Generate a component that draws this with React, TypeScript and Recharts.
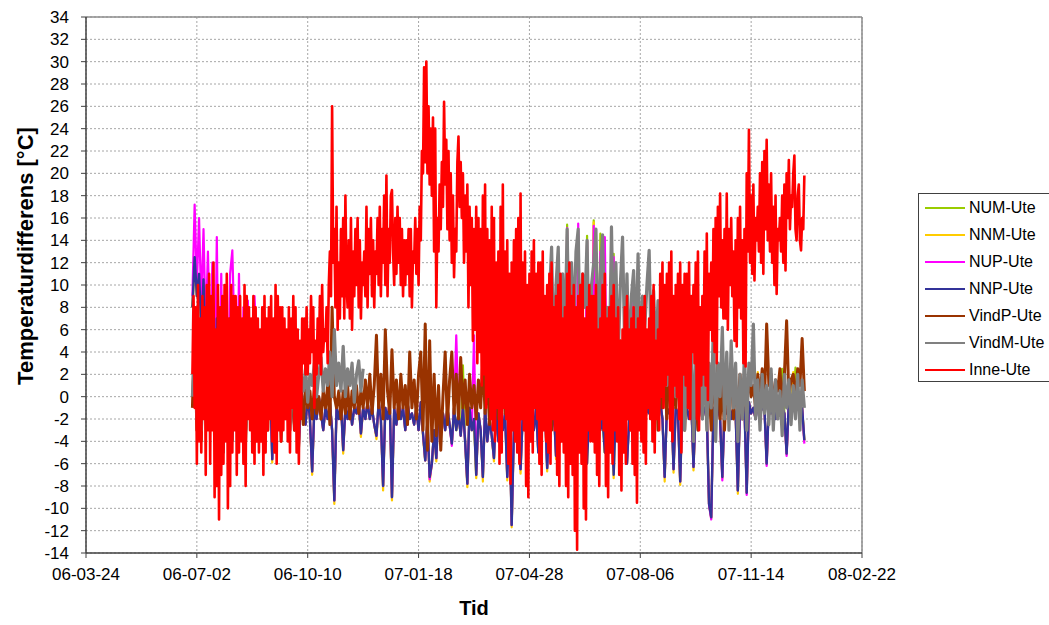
import { LineChart, Line, XAxis, YAxis, CartesianGrid, ReferenceLine } from 'recharts';

// x is counted in days from 2006-03-24, one axis tick every 100 days
const tickDays = [0, 100, 200, 300, 400, 500, 600, 700];
const tickLabels = ['06-03-24', '06-07-02', '06-10-10', '07-01-18', '07-04-28', '07-08-06', '07-11-14', '08-02-22'];
const tempTicks = [-14, -12, -10, -8, -6, -4, -2, 0, 2, 4, 6, 8, 10, 12, 14, 16, 18, 20, 22, 24, 26, 28, 30, 32, 34];

// logging started on day 96; indoor series daily, the rest every 2 days
const startDay = 96;
const indoorStep = 1;
const sensorStep = 2;
// VindM-Ute has a break in its logging, second run starts here
const vindMResumeDay = 412;

const inneUte = [
  2, 9, -1, 8, -6, 10, -4, 7, -5, 9, -2, 8, -7, 10, -3, 11, -6, 9, -3, 12,
  -9, 6, -8, 10, -11, 8, -7, 9, -6, 10, -4, 11, -10, 7, -8, 10, -5, 9, -3, 9,
  -7, 8, -5, 9, -4, 7, -6, 10, -8, 9, -2, 8, -3, 7, -5, 9, -6, 8, -4, 7,
  -5, 6, -4, 8, -7, 9, -5, 7, -3, 8, -2, 9, -4, 7, -5, 10, -6, 9, -3, 8,
  -4, 8, -3, 7, -2, 6, -4, 8, -5, 7, -1, 9, -3, 8, -5, 6, -6, 5, -2, 7,
  3, 7, 2, 8, 2, 6, 3, 9, 4, 8, -1, 5, 2, 7, 3, 9, 2, 10, 4, 6,
  5, 8, 3, 10, 13, 9, 26, 12, 15, 8, 17, 6, 12, 7, 15, 9, 16, 7, 18, 10,
  8, 14, 7, 16, 6, 13, 9, 15, 10, 16, 8, 14, 7, 12, 10, 13, 9, 17, 8, 15,
  11, 16, 9, 14, 8, 13, 11, 16, 10, 17, 9, 15, 12, 18, 10, 19.8, 9, 15, 12, 18,
  18.5, 13, 10, 16, 11, 17, 12, 16, 10, 15, 9, 14, 10, 14, 11, 15, 9, 15, 8, 13,
  12, 16, 11, 15, 10, 17, 14, 22, 20, 29.5, 21, 30, 20, 26, 19, 24, 18, 25, 13, 24,
  8, 16, 13, 19, 15, 21, 17, 26.4, 19, 23, 15, 22, 14, 20, 12, 18, 10.7, 15, 13, 21,
  23.3, 17, 21, 16, 20, 12, 18, 13, 19, 8, 17, 10, 16, 5, 15, 6, 17, 3, 16, 4,
  15, 1, 18, 2, 19, -1, 15, 0, 14, -2, 17, -3, 16, -4, 12, -1, 13, -6, 17, -5,
  19, -1, 13, -2, 14, -6, 11, -7.8, 12, -3, 14, -4, 15, -5, 16, -6, 18.2, -2, 12, -3,
  13, -8, 10, -9, 11, -4, 13, -5, 14, -1, 11, -2, 12, -6, 12, -7, 13, -3, 9, -4,
  10, -5, 11, -6, 12, -2, 8, -3, 9, -7, 10, -8, 11, -4, 7, -5, 8, -8, 11, -9,
  12, -6, 9, -7, 10, -12, 8, -13.7, 9, -5, 10, -6, 11, -10, 7, -11, 8, -3, 10, -4,
  9, -4, 9, -5, 10, -7, 6, -8, 7, -2, 10, -3, 11, -8, 7, -9, 8, -5, 9, -6,
  10, -3, 7, -4, 8, -7, 5, -8.4, 6, -5, 8, -6, 9, -2, 6, -3, 7, -6, 8, -7,
  6, -9.5, 7, -3, 8, -4, 8, -5, 9, -6, 6, -1, 7, -2, 9, -4, 10, -5, 5, -2,
  6, -3, 11, 0, 12, -1, 10, 1, 11, 2, 12, -3, 13, -4, 9, 1, 10, 0, 11, -2,
  12, -5, 10, 2, 11, 1, 11, -1, 12, -2, 9, 4, 10, 3, 12, -2, 13, -3, 8, 1,
  9, 2, 13, 1, 14.6, -0.3, 11, 6, 12, 5, 15, 4, 16, 3, 17, 9, 18.2, 8, 14, 7,
  15, 7, 18.2, 6, 15, 10, 16, 9, 13, 5, 14, 4.5, 16, 8, 17, 7, 14, 3, 15, 2.7,
  20, 13, 23.9, 12, 18, 11, 19, 10.4, 16, 14, 17, 13, 20, 12, 21, 11, 22, 15, 23, 14,
  19, 13, 20, 12, 17, 10, 18, 9.2, 15, 14, 16, 13, 18, 12, 19, 11.3, 20, 16, 21.2, 15,
  18, 17, 20, 21.6, 15, 14, 18, 19, 14, 13.1, 16, 15, 19.8,
];

const vindMUteFirst = [
  0, 5, -2, 6, -3, 4, -1, 7, -2, 5,
  -3, 4, -1, 6, -2, 3, -4, 5, -1, 4,
  -2, 3, 0, 4, -3, 2, -1, 5, -2, 3,
  -1, 4, -3, 2, 0, 3, -2, 4, -1, 2,
  -2, 3, -1, 2, -3, 1, 0, 2,
  1, 2, 0.5, 2.5, -0.5, 2, 1, 3, 0, 2,
  3.5, 0.5, 2.5, 1, 4, 0, 6, 1, 3, 0.5,
  4.5, 0, 2.5, 1, 3, -0.5, 2, 3.2, 0.5, 2.5,
];

const vindMUteSecond = [
  1, 5, -1, 9, 13.4, 3, 10, 13.4, 2, 11,
  5, 15, 4, 12, 6, 13, 15, 2, 11, 8,
  14, 3, 10, 12, 15, 4, 11, 14.5, 6, 8, 2,
  15.2, 5, 12, 3, 10, 14.3, 4, 11, 2, 9,
  11.3, 4, 12.8, 2, 9, 6, 10, 13.1, 3, 9.5,
  4, 8.6, 2, 7, 5.6, 1, 6, 3, 5, 0,
  6.2, -2, 5, -3, 4.1, 1, 6, -4, 3, -1, 5, -2,
  4, -3, 3, -1, 6.5, -4, 3, 0, 6.2, -2,
  4, -3, 5, -1, 3, -4, 2, -2, 4, -3, 3, 1,
  6.5, -2, 1.5, -3, 2, -1.5, 1, -2.5, 2.5, -3,
  1.5, -2, 0.5, -3.5, 2, -1, 1.5, -2.5, 1, -2, 2, -3, 1.5, -1,
];

const vindPUte = [
  -1, 6, -3, 5, -4, 7, -2, 4, -3, 6,
  -4, 5, -2, 3, -1.5, 6, -3, 4, -2, 5,
  -3, 4, -1, 5, -4, 3, -2, 4, -3, 2,
  -1, 4, -2, 3, -3, 5, -1, 2, -2, 3,
  -4, 2, -1, 3, -2, 1, -3, 2,
  -1, 0.5, -2.5, 1, -1, 0.5, -2, 1, -1.5, 0,
  -2, 0.5, -1, 1, -2.5, 8, 0, -1, 0.5, -2,
  0.5, -1.5, 1, -2, 0.5, -1, 1, -1.5, 0.5, -1,
  1.5, -1, 2, -1.5, 1, 5.5, -1, 2, -2, 6,
  0.5, -1.5, 4.2, -1, 1.5, -2, 2, -1, 1, -2.5,
  4, -1, 1.5, -2, 2, 4, -3, 6.5, -4.8, 5,
  -4, 2, -3.5, 1, -4.8, 0, 4, -2.5, 1.5, 4,
  -1.5, 2, -2, 3.5, -1, 1.5, -2.5, 2, -1, 1,
  -2, 1.5, -1, 3.3, -1.5, 2, -2.5, 1, -1, 2,
  -2, 1.5, 4, -1.5, 1, -3, 2, -1, 1.5, 2.8,
  -2, 1, -1.5, 2, -2.5, 2.5, -1, 1.5, -2, 3,
  -1, 4, -2, 3, -3, 5, -1, 2, -2, 4,
  -3, 3, -1, 5, -2, 2, -3, 4, -1, 3,
  -2, 5, -3, 2, -1, 4, -2, 3, -3, 2,
  -1, 4, -2, 3, -3, 5, -1, 2, -2, 3,
  -3, 4, -1, 2, -2, 5, -3, 3, -1, 2,
  -2, 4, -3, 3, -1, 2, -2, 4, -3, 1,
  -1, 3, -2, 4, -3, 2, -1, 3, -2, 1,
  -3, 2, -1, 3, -2, 1, -3, 2, -1, 3,
  -2, 1, -3, 2, -1, 3, -2, 1, -1, 2,
  -2, 1, -1, 2, 0,
  1, -1, 2, 0, 2.5, -0.5, 6.5, 1, 2, -1,
  1.5, 0.5, 2.5, -1, 2, 6.8, 0, 1.5, 2, -0.5, 2.5, 1, 5.2, 0.5,
];

const nnpUte = [
  8, 12.5, 9, 11, 6, 10.5, 4, 9, -2, 8,
  -4, 7, -3, 8, -5, 6, -2, 7, -4, 5,
  -3, 6, -2, 5, -4, 4, -1, 5, -3, 4,
  -2, 3, -3, 4, -1, 2, -5.6, 3, -2, 2,
  -3, 1, -2, 2, -1, 1, -3, 0, -4.5, 1,
  -1, -2.5, 0, -2, -6.7, -1, -2, 0, -1.5, -3,
  -1, -2, -0.5, -3, -9.3, -1, -2, -0.5, -4.8, -1,
  -2, -0.5, -2.5, -1, -1.5, -0.5, -3.3, -1, -2, -0.5,
  -2, -1, -2.5, -3.5, -0.5, -2, -8, -1, -2, -0.5,
  -9, -1, -2.5, -0.5, -2, -1, -3, -0.5, -2, -1.5,
  -2.5, -1, -3, -0.5, -3.3, -5.7, -2, -7.2, -6, -3,
  -5.5, -1, -3, -1.5, -3, -1, -2.5, -4.2, -1, -3,
  -1.5, -3.5, -1, -4, -7.8, -1, -3, -2, -7, -1.5,
  -3, -7.2, -1, -4, -2, -3.5, -5.5, -1, -4, -2,
  -3, -1.5, -7.2, -2, -11.5, -3, -1, -4, -6.5, -1.5,
  -3, -1, -4, -2, -3, -1, -5, -2, -3, -1,
  -6.4, -1.5, -3, -1, -5.3, -2, -3, -1, -4, -2,
  -3, -1, -5, -2, -3, -1, -4, -2, -6, -1,
  -3, -2, -4, -1, -3, -2, -5, -1, -3, -2,
  -7, -1, -3, -2, -4, -1, -6, -2, -3, -1,
  -2, -1, -1.5, -0.5, -2.5, -1, -1.5, -0.5, -2, -1,
  -1.5, -0.5, -2, -7.2, -1, -1.5, -0.5, -6.5, -1, -1.5,
  -7.6, -0.5, -1.5, -1, -2, -0.5, -6.3, -1, -1.5, -0.5,
  -2, -1, -1.5, -9.6, -10.8, -1, -1.5, -0.5, -2, -7.2,
  -1, -1.5, -0.5, -2, -1, -1.5, -8.4, -0.5, -1.5, -1,
  -8.6, -0.5, -1.5, -1, -2, -0.5, -1.5, -1, -1, -6,
  -0.5, -1.5, -1, -2, -0.5, -1, -1, -1.5, -5.1, -0.5,
  -1, -1, -1.5, -0.5, -1, -1, -3.9,
];

const nupUte = [
  9, 17.2, 10, 16, 8, 15, 6, 13, 4, 12,
  -2, 14.3, -3, 11, -4, 10, -2, 11, 13.1, 5,
  -3, 11, -2, 8, -4, 8.6, -1, 6, 9, 4,
  -2, 5, -3, 6.5, -1, 2, -5.6, 3, -2, 2,
  -3, 1, -2, 2, -1, 1, -3, 0, -4.5, 1,
  -1, -2.5, 0, -2, -6.7, -1, -2, 0, -1.5, -3,
  -1, -2, -0.5, -3, -9.3, -1, -2, -0.5, -4.8, -1,
  -2, -0.5, -2.5, -1, -1.5, -0.5, -3.3, -1, -2, -0.5,
  -2, -1, -2.5, -3.5, -0.5, -2, -8, -1, -2, -0.5,
  -9, -1, -2.5, -0.5, -2, -1, -3, -0.5, -2, -1.5,
  -2.5, -1, -3, -0.5, -3.3, -5.7, -2, -7.4, -6, -3,
  -5.5, -1, -3, -1.5, -3, -1, -2.5, -4.4, -1, 5.5,
  -1.5, -3.5, -1, -4, -7.8, -1, -3, 5.5, -7, -1.5,
  -3, -7.2, -1, -4, -2, -3.5, -5.5, -1, -4, -2,
  -3, -1.5, -7.2, -2, -11.5, -3, -1, -4, -6.5, -1.5,
  5.8, -1, -4, -2, -3, -1, -5, -2, -3, -1,
  -6.4, -1.5, -3, -1, -5.3, -2, -3, -1, -4, 15.1,
  -3, -1, -5, -2, 15.5, -1, -4, -2, 14, -1,
  -3, 15.3, -4, -1, 13, -2, 14.3, -1, -3, -2,
  12.5, -1, -3, -2, -4, -1, -6, -2, -3, 11,
  -2, -1, -1.5, -0.5, -2.5, -1, -1.5, -0.5, -2, -1,
  7.7, -0.5, -2, -7.2, -1, -1.5, -0.5, -6.5, -1, -1.5,
  -7.6, -0.5, -1.5, -1, -2, -0.5, -6.3, -1, -1.5, -0.5,
  -2, -1, -1.5, -9.7, -11, -1, -1.5, -0.5, -2, -7.5,
  -1, -1.5, -0.5, -2, -1, -1.5, -8.4, -0.5, -1.5, -1,
  -8.8, -0.5, -1.5, -1, -2, -0.5, -1.5, -1, -1, -6.2,
  -0.5, -1.5, -1, -2, -0.5, -1, -1, -1.5, -5.3, -0.5,
  -1, -1, -1.5, -0.5, -1, -1, -4.2,
];

const nnmUte = [
  8, 12.5, 9, 11, 6, 10.5, 4, 9, -2, 8,
  -4, 7, -3, 8, -5, 6, -2, 7, -4, 5,
  -3, 6, -2, 5, -4, 4, -1, 5, -3, 4,
  -2, 3, -3, 4, -1, 2, -5.9, 3, -2, 2,
  -3, 1, -2, 2, -1, 1, -3, 0, -4.8, 1,
  -1, -2.5, 0, -2, -7, -1, -2, 0, -1.5, -3,
  -1, -2, -0.5, -3, -9.6, -1, -2, -0.5, -5.1, -1,
  -2, -0.5, -2.5, -1, -1.5, -0.5, -3.6, -1, -2, -0.5,
  -2, -1, -2.5, -3.8, -0.5, -2, -8.4, -1, -2, -0.5,
  -9.3, -1, -2.5, -0.5, -2, -1, -3, -0.5, -2, -1.5,
  -2.5, -1, -3, -0.5, -3.6, -5.7, -2, -7.6, -6, -3,
  -5.8, -1, -3, -1.5, -3, -1, -2.5, -4.2, -1, -3,
  -1.5, -3.5, -1, -4, -8.1, -1, -3, -2, -7.3, -1.5,
  -3, -7.6, -1, -4, -2, -3.5, -5.8, -1, -4, -2,
  -3, -1.5, -7.5, -2, -11.7, -3, -1, -4, -6.9, -1.5,
  -3, -1, -4, -2, -3, -1, -5, -2, -3, -1,
  -6.7, -1.5, -3, -1, -5.6, -2, -3, -1, -4, -2,
  -3, -1, -5, -2, -3, -1, -4, -2, -6, -1,
  -3, 15.6, -4, -1, -3, -2, -5, -1, -3, -2,
  -7.3, -1, -3, -2, -4, -1, -6, -2, -3, -1,
  -2, -1, -1.5, -0.5, -2.5, -1, -1.5, -0.5, -2, -1,
  -1.5, -0.5, -2, -7.6, -1, -1.5, -0.5, -6.8, -1, -1.5,
  -7.9, -0.5, -1.5, -1, -2, -0.5, -6.6, -1, -1.5, -0.5,
  -2, -1, -1.5, -9.6, -10.9, -1, -1.5, -0.5, -2, -7.3,
  -1, -1.5, -0.5, -2, -1, -1.5, -8.7, -0.5, -1.5, -1,
  -8.6, -0.5, -1.5, -1, -2, 2.2, -1.5, -1, -1, -6,
  -0.5, -1.5, -1, -2, -0.5, -1, -1, -1.5, -5.1, -0.5,
  -1, 2.2, -1.5, -0.5, -1, -1, -3.9,
];

const numUte = [
  8, 12.5, 9, 11, 6, 10.5, 4, 9, -2, 8,
  -4, 7, -3, 8, -5, 6, -2, 7, -4, 5,
  -3, 6, -2, 5, -4, 4, -1, 5, -3, 4,
  -2, 3, -3, 4, -1, 2, -5.6, 3, -2, 2,
  -3, 1, -2, 2, -1, 1, -3, 0, -4.5, 1,
  -1, -2.5, 0, -2, -6.7, -1, -2, 0, -1.5, -3,
  -1, -2, -0.5, -3, -9.3, -1, -2, -0.5, -4.8, -1,
  -2, -0.5, -2.5, -1, -1.5, -0.5, -3.3, -1, -2, -0.5,
  -2, -1, -2.5, -3.5, -0.5, -2, -8, -1, -2, -0.5,
  -9, -1, -2.5, -0.5, -2, -1, -3, -0.5, -2, -1.5,
  -2.5, -1, -3, -0.5, -3.3, -5.7, -2, -7.2, -6, -3,
  -5.5, -1, -3, -1.5, -3, -1, -2.5, -4.2, -1, -3,
  -1.5, -3.5, 2.8, -4, -7.8, -1, -3, -2, -7, -1.5,
  -3, -7.2, -1, -4, -2, -3.5, -5.5, -1, -4, -2,
  -3, -1.5, -7.2, -2, -11.5, -3, -1, -4, -6.5, -1.5,
  -3, -1, -4, -2, -3, -1, -5, -2, -3, -1,
  -6.4, -1.5, -3, -1, -5.3, -2, -3, -1, -4, 15.4,
  -3, -1, -5, -2, -3, -1, -4, -2, 14.4, -1,
  -3, 15.8, -4, -1, 14.6, -2, -5, -1, -3, -2,
  12.8, -1, -3, -2, -4, -1, -6, -2, -3, -1,
  -2, -1, -1.5, -0.5, -2.5, -1, -1.5, -0.5, -2, -1,
  8, -0.5, -2, -7.2, -1, -1.5, -0.5, -6.5, -1, -1.5,
  -7.6, -0.5, -1.5, -1, -2, -0.5, -6.3, -1, -1.5, -0.5,
  -2, -1, -1.5, -9.6, -10.8, -1, -1.5, -0.5, -2, -7.2,
  -1, -1.5, -0.5, -2, -1, -1.5, -8.4, -0.5, -1.5, -1,
  -8.6, -0.5, -1.5, -1, -2, -0.5, -1.5, -1, -1, -6,
  -0.5, -1.5, -1, -2, -0.5, -1, 2.5, -1.5, -5.1, -0.5,
  -1, -1, 2.6, -0.5, -1, -1, -3.9,
];

const toPoints = (values: number[], first: number, step: number) =>
  values.map((v, i) => ({ day: first + i * step, v }));

// drawing order: first entry at the bottom, Inne-Ute on top
const series = [
  { name: 'NUM-Ute', color: '#99CC00', width: 2.2, data: toPoints(numUte, startDay, sensorStep) },
  { name: 'NNM-Ute', color: '#FFCC00', width: 2.2, data: toPoints(nnmUte, startDay, sensorStep) },
  { name: 'NUP-Ute', color: '#FF00FF', width: 2.2, data: toPoints(nupUte, startDay, sensorStep) },
  { name: 'NNP-Ute', color: '#333399', width: 2.4, data: toPoints(nnpUte, startDay, sensorStep) },
  { name: 'VindP-Ute', color: '#993300', width: 3, data: toPoints(vindPUte, startDay, sensorStep) },
  { name: 'VindM-Ute', color: '#808080', width: 3.2, data: toPoints(vindMUteFirst, startDay, sensorStep) },
  { name: 'VindM-Ute', color: '#808080', width: 3.2, data: toPoints(vindMUteSecond, vindMResumeDay, sensorStep), hideInLegend: true },
  { name: 'Inne-Ute', color: '#FF0000', width: 2.6, data: toPoints(inneUte, startDay, indoorStep) },
];

const font = '"Liberation Sans", Arial, sans-serif';

function YTitle() {
  return (
    <text
      x={25}
      y={256}
      transform="rotate(-90 25 256)"
      textAnchor="middle"
      dominantBaseline="central"
      fill="#000"
      fontSize={22}
      fontWeight="bold"
      fontFamily={font}
    >
      Temperaturdifferens [°C]
    </text>
  );
}

export default function App() {
  return (
    <div style={{ position: 'absolute', left: 0, top: 0, width: 1049, height: 625, overflow: 'hidden', background: '#fff', fontFamily: font }}>
      <LineChart width={1049} height={625} margin={{ top: 17, right: 187, bottom: 0, left: 0 }}>
        <CartesianGrid stroke="#a6a6a6" strokeDasharray="2 2" />
        <XAxis
          dataKey="day"
          type="number"
          domain={[0, 700]}
          ticks={tickDays}
          interval={0}
          tickFormatter={(d: number) => tickLabels[tickDays.indexOf(d)]}
          height={72}
          tickSize={5}
          tickMargin={10}
          axisLine={{ stroke: '#404040', strokeWidth: 1.5 }}
          tickLine={{ stroke: '#404040' }}
          tick={{ fill: '#000', fontSize: 17, fontFamily: font }}
          label={{ value: 'Tid', position: 'insideBottom', offset: 10, fill: '#000', fontSize: 20, fontWeight: 'bold', fontFamily: font }}
        />
        <YAxis
          type="number"
          domain={[-14, 34]}
          ticks={tempTicks}
          interval={0}
          width={86}
          tickSize={5}
          tickMargin={12}
          axisLine={{ stroke: '#404040', strokeWidth: 1.5 }}
          tickLine={{ stroke: '#404040' }}
          tick={{ fill: '#000', fontSize: 17, fontFamily: font }}
          label={{ content: () => <YTitle /> }}
        />
        <ReferenceLine y={34} stroke="#8c8c8c" strokeWidth={1.5} />
        <ReferenceLine x={700} stroke="#8c8c8c" strokeWidth={1.5} />
        {series.map((s, i) => (
          <Line
            key={i}
            data={s.data}
            dataKey="v"
            name={s.name}
            type="linear"
            stroke={s.color}
            strokeWidth={s.width}
            strokeLinejoin="round"
            dot={false}
            activeDot={false}
            isAnimationActive={false}
          />
        ))}
      </LineChart>
      <div
        style={{
          position: 'absolute',
          left: 918,
          top: 193,
          width: 140,
          height: 189,
          boxSizing: 'border-box',
          border: '1px solid #404040',
          background: '#fff',
        }}
      >
        {series
          .filter((s) => !s.hideInLegend)
          .map((s) => (
            <div key={s.name} style={{ display: 'flex', alignItems: 'center', height: 27 }}>
              <span style={{ display: 'inline-block', width: 40, height: 2, marginLeft: 6, background: s.color }} />
              <span style={{ marginLeft: 4, fontSize: 16, color: '#000', whiteSpace: 'nowrap' }}>{s.name}</span>
            </div>
          ))}
      </div>
    </div>
  );
}
